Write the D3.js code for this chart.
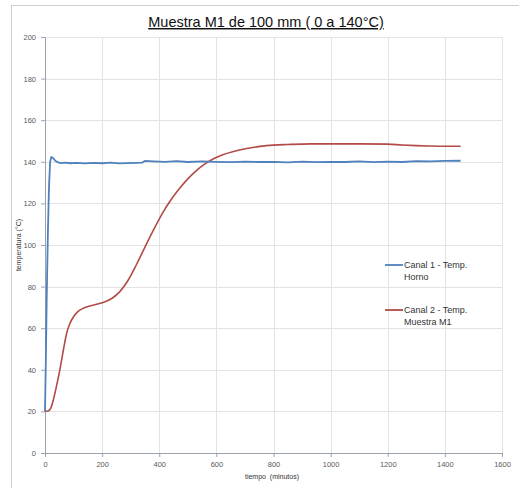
<!DOCTYPE html>
<html><head><meta charset="utf-8">
<script src="https://cdn.jsdelivr.net/npm/d3@7"></script>
<style>body{margin:0;background:#fff;}svg{display:block;font-family:Arial,"Liberation Sans",sans-serif;}</style>
</head><body>
<svg id="chart" width="519" height="488"></svg>
<script>
const title = "Muestra M1 de 100 mm ( 0 a 140°C)";
const xLabel = "tiempo  (minutos)";
const yLabel = "temperatura (°C)";
const xTicks = [0,200,400,600,800,1000,1200,1400,1600];
const yTicks = [0,20,40,60,80,100,120,140,160,180,200];
const seriesNames = [["Canal 1 - Temp.","Horno"],["Canal 2 - Temp.","Muestra M1"]];
const seriesColors = ["#4F81BD","#B24A47"];

const blueT = [0,3,6,10,14,18,22,26,30,36,44,55,70,90,110,140,170,200,230,260,290,320,340,350,380,420,460,500,550,600,650,700,750,800,850,900,950,1000,1050,1100,1150,1200,1250,1300,1350,1400,1455];
const blueV = [20,45,75,105,128,140,142.3,142,141.5,140.5,139.8,139.4,139.6,139.3,139.5,139.2,139.5,139.3,139.6,139.2,139.4,139.5,139.6,140.4,140.2,140.0,140.3,139.9,140.2,140.0,139.8,140.1,139.9,140.0,139.7,140.1,139.8,140.0,139.9,140.2,139.8,140.1,139.9,140.3,140.2,140.4,140.5];

const redT = [0,10,20,30,40,52,65,76,88,100,115,134,160,200,235,262,290,320,350,380,410,440,470,500,530,560,590,620,660,706,753,800,850,930,1000,1100,1200,1250,1300,1350,1400,1455];
const redV = [20,20.2,21.5,26,32,40,50,57.7,62.5,65.5,68,69.6,70.8,72.2,74.4,77.6,82.8,90.5,99,107.3,115,121.5,127,131.8,135.8,139,141.5,143.3,145,146.4,147.4,148,148.3,148.6,148.6,148.6,148.5,148.1,147.8,147.6,147.5,147.5];

const svg = d3.select("#chart");
const m = {left:45, right:502, top:37, bottom:453};
const x = d3.scaleLinear().domain([0,1600]).range([m.left,m.right]);
const y = d3.scaleLinear().domain([0,200]).range([m.bottom,m.top]);

svg.append("rect").attr("x",11.5).attr("y",5.5).attr("width",520).attr("height",500)
  .attr("fill","none").attr("stroke","#cfcfcf").attr("stroke-width",1);

svg.append("g").selectAll("line").data(yTicks.filter(d=>d>0)).join("line")
  .attr("x1",m.left).attr("x2",m.right).attr("y1",d=>Math.round(y(d))+0.5).attr("y2",d=>Math.round(y(d))+0.5)
  .attr("stroke","#e3e3e3");
svg.append("g").selectAll("line").data(xTicks.filter(d=>d>0)).join("line")
  .attr("y1",m.top).attr("y2",m.bottom).attr("x1",d=>Math.round(x(d))+0.5).attr("x2",d=>Math.round(x(d))+0.5)
  .attr("stroke","#e3e3e3");

const xa = svg.append("g").attr("transform",`translate(0,${m.bottom})`)
  .call(d3.axisBottom(x).tickValues(xTicks).tickFormat(d3.format("d")).tickSize(4).tickPadding(5));
const ya = svg.append("g").attr("transform",`translate(${m.left},0)`)
  .call(d3.axisLeft(y).tickValues(yTicks).tickFormat(d3.format("d")).tickSize(4).tickPadding(5));
[xa,ya].forEach(a=>{
  a.selectAll("path,line").attr("stroke","#9aa3ad");
  a.selectAll("text").attr("fill","#595959").style("font-size","7.5px").style("font-family","Arial, 'Liberation Sans', sans-serif");
});

const lineB = d3.line().x(d=>x(d[0])).y(d=>y(d[1]));
const lineR = d3.line().x(d=>x(d[0])).y(d=>y(d[1])).curve(d3.curveMonotoneX);
svg.append("path").datum(redT.map((t,i)=>[t,redV[i]])).attr("d",lineR)
  .attr("fill","none").attr("stroke",seriesColors[1]).attr("stroke-width",1.6);
svg.append("path").datum(blueT.map((t,i)=>[t,blueV[i]])).attr("d",lineB)
  .attr("fill","none").attr("stroke",seriesColors[0]).attr("stroke-width",1.8).attr("stroke-linejoin","round");

svg.append("text").attr("x",266).attr("y",27).attr("text-anchor","middle")
  .style("font-size","14.5px").attr("fill","#111").attr("text-decoration","underline").text(title);

svg.append("text").attr("x",272).attr("y",479).attr("text-anchor","middle")
  .style("font-size","7px").attr("fill","#333").attr("xml:space","preserve").text(xLabel);
svg.append("text").attr("transform","translate(21,245) rotate(-90)").attr("text-anchor","middle")
  .style("font-size","7px").attr("fill","#333").text(yLabel);

const lg = svg.append("g");
const legY = [268,313];
seriesNames.forEach((n,i)=>{
  lg.append("line").attr("x1",385).attr("x2",403).attr("y1",legY[i]-3).attr("y2",legY[i]-3)
    .attr("stroke",seriesColors[i]).attr("stroke-width",1.8);
  lg.append("text").attr("x",404).attr("y",legY[i]).style("font-size","9px").attr("fill","#333").text(n[0]);
  lg.append("text").attr("x",404).attr("y",legY[i]+12).style("font-size","9px").attr("fill","#333").text(n[1]);
});
</script>
</body></html>
